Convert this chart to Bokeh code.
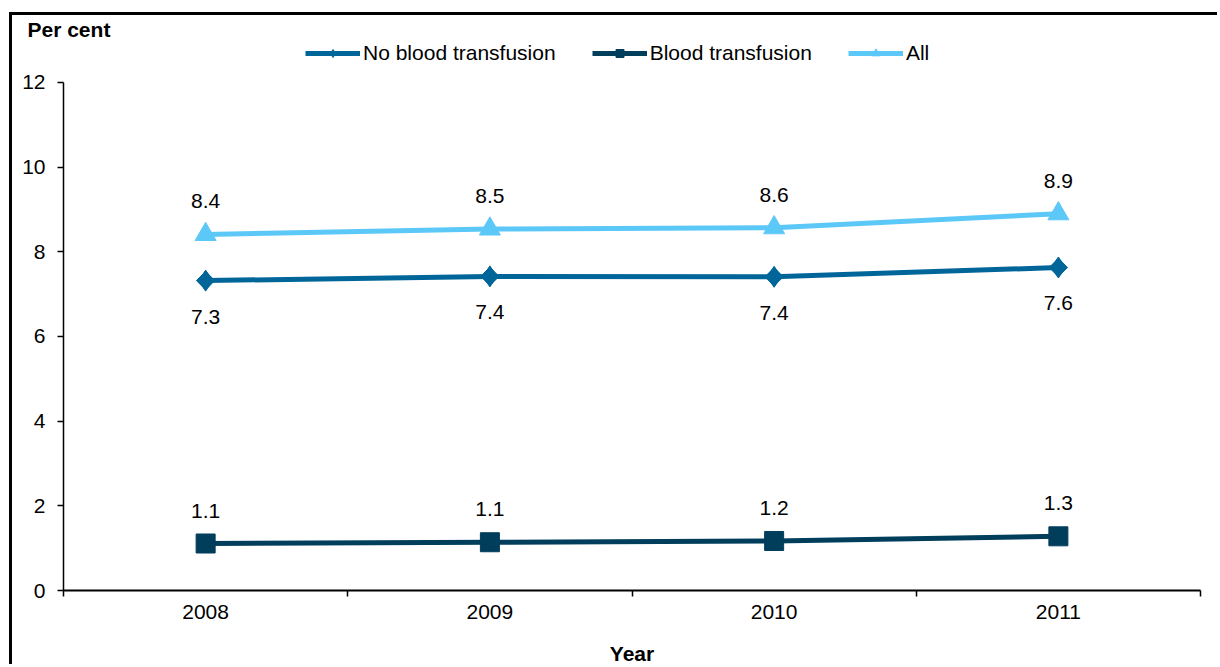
import numpy as np
from bokeh.plotting import figure
from bokeh.models import (Range1d, FixedTicker, Legend, LegendItem,
                          ColumnDataSource)
from bokeh.embed import file_html
from bokeh.resources import INLINE
from bokeh.core.properties import value

years = ["2008", "2009", "2010", "2011"]
no_transfusion = [7.32, 7.42, 7.41, 7.63]
transfusion = [1.11, 1.14, 1.17, 1.28]
all_patients = [8.41, 8.54, 8.57, 8.90]
y_ticks = [0, 2, 4, 6, 8, 10, 12]

FONT = "Liberation Sans"
FS = "21px"

xs = [i + 0.5 for i in range(len(years))]

p = figure(width=1208, height=652,
           x_range=Range1d(0, len(years)), y_range=Range1d(0, 12.992),
           output_backend="svg", toolbar_location=None,
           min_border_left=51, min_border_right=20,
           min_border_top=25, min_border_bottom=77)
p.styles = {"margin-left": "9px", "margin-top": "12px",
            "border-left": "3px solid black", "border-top": "3px solid black"}
p.outline_line_color = None
p.xgrid.visible = False
p.ygrid.visible = False
p.background_fill_color = "white"
p.border_fill_color = "white"

p.title.text = "Per cent"
p.title.text_font = FONT
p.title.text_font_size = FS
p.title.text_font_style = "bold"
p.title.text_color = "black"
p.title.align = "left"
p.title.offset = -36
p.title.standoff = 0

# x axis
xa = p.xaxis[0]
xa.ticker = FixedTicker(ticks=xs, minor_ticks=list(range(len(years) + 1)))
xa.major_label_overrides = {x: y for x, y in zip(xs, years)}
xa.major_tick_line_color = None
xa.minor_tick_line_color = "black"
xa.minor_tick_line_width = 1.5
xa.minor_tick_out = 6
xa.minor_tick_in = 0
xa.major_tick_out = 6
xa.axis_line_width = 2
xa.axis_line_color = "black"
xa.major_label_text_font = FONT
xa.major_label_text_font_size = FS
xa.major_label_text_color = "black"
xa.major_label_standoff = 8
xa.axis_label = "Year"
xa.axis_label_text_font = FONT
xa.axis_label_text_font_size = FS
xa.axis_label_text_font_style = "bold"
xa.axis_label_text_color = "black"
xa.axis_label_standoff = 20

ya = p.yaxis[0]
ya.bounds = (0, 12)
ya.ticker = FixedTicker(ticks=y_ticks, minor_ticks=[])
ya.major_tick_line_color = "black"
ya.major_tick_line_width = 1.5
ya.major_tick_out = 6
ya.major_tick_in = 0
ya.axis_line_width = 1.5
ya.axis_line_color = "black"
ya.major_label_text_font = FONT
ya.major_label_text_font_size = FS
ya.major_label_text_color = "black"
ya.major_label_standoff = 12

c_no = "#006699"
c_tr = "#003E5C"
c_all = "#5CC8F8"

def fmt(vals):
    return [f"{v:.1f}" for v in vals]

src_no = ColumnDataSource(dict(x=xs, y=no_transfusion, t=fmt(no_transfusion)))
src_tr = ColumnDataSource(dict(x=xs, y=transfusion, t=fmt(transfusion)))
src_all = ColumnDataSource(dict(x=xs, y=all_patients, t=fmt(all_patients)))

l_no = p.line("x", "y", source=src_no, line_color=c_no, line_width=5)
m_no = p.scatter("x", "y", source=src_no, marker="square", angle=np.pi / 4,
                 size=13, fill_color=c_no, line_color=c_no)
d_no = p.scatter("x", "y", source=src_no, marker="diamond", size=21,
                 fill_color=c_no, line_color=c_no)
l_tr = p.line("x", "y", source=src_tr, line_color=c_tr, line_width=5)
m_tr = p.scatter("x", "y", source=src_tr, marker="square", size=19,
                 fill_color=c_tr, line_color=c_tr)
l_all = p.line("x", "y", source=src_all, line_color=c_all, line_width=5)
m_all = p.scatter("x", "y", source=src_all, marker="triangle", size=21,
                  fill_color=c_all, line_color=c_all)

for src, off in ((src_no, 36), (src_tr, -33), (src_all, -33)):
    p.text("x", "y", text="t", source=src, y_offset=off,
           text_font=value(FONT), text_font_size=FS, text_color="black",
           text_align="center", text_baseline="middle")

legend = Legend(items=[
    LegendItem(label="No blood transfusion", renderers=[l_no, d_no]),
    LegendItem(label="Blood transfusion", renderers=[l_tr, m_tr]),
    LegendItem(label="All", renderers=[l_all, m_all]),
], orientation="horizontal", location=(242, 525),
   glyph_width=55, glyph_height=20, label_standoff=3, spacing=36,
   padding=0, margin=0, border_line_color=None, background_fill_alpha=0,
   label_text_font=FONT, label_text_font_size=FS, label_text_color="black")
p.add_layout(legend)

open("out.html", "w").write(file_html(p, INLINE))
